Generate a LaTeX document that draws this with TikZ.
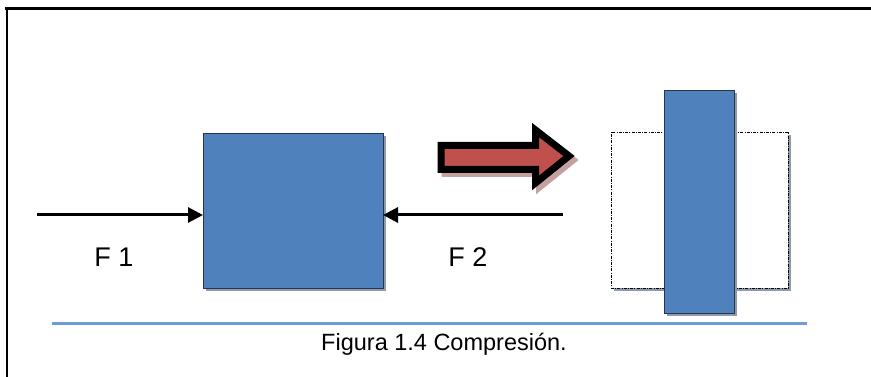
\documentclass[tikz,border=0pt]{standalone}
\usepackage{fontspec}
\setmainfont{Liberation Sans}
\usetikzlibrary{arrows.meta,shadows}

\definecolor{boxblue}{HTML}{4F81BD}
\definecolor{boxedge}{HTML}{24374F}
\definecolor{boxshade}{HTML}{8F9BAA}
\definecolor{pushred}{HTML}{C0504D}
\definecolor{pushshade}{HTML}{C4A0A0}
\definecolor{baseblue}{HTML}{6F9BD8}

\tikzset{
  blockbox/.style={draw=boxedge, line width=0.9pt, fill=boxblue, outer sep=0pt,
    general shadow={fill=boxshade, shadow xshift=3pt, shadow yshift=-3pt}},
  ghostbox/.style={draw=black, line width=0.9pt, fill=white, outer sep=0pt,
    dash pattern=on 3pt off 1.2pt on 1pt off 1.2pt,
    general shadow={fill=boxshade, shadow xshift=3pt, shadow yshift=-3pt}},
  force/.style={line width=3pt, -{Triangle[length=15pt,width=15pt]}},
  flabel/.style={font=\fontsize{27}{30}\selectfont},
}

\begin{document}
\begin{tikzpicture}[x=1pt,y=-1pt]
\useasboundingbox (0,0) rectangle (871,377);

% frame edges
\draw[line width=3pt] (5,9) -- (871,9);
\draw[line width=2.2pt] (7,9) -- (7,377);

% block before compression
\node[blockbox, minimum width=180pt, minimum height=155pt] (sq) at (293,210.5) {};

% forces
\coordinate (f1start) at (37,215);
\coordinate (f2start) at (563,215);
\draw[force] (f1start) -- (f1start -| sq.west);
\draw[force] (f2start) -- (f2start -| sq.east);
\node[flabel] (f1) at (114,257) {F 1};
\node[flabel] (f2) at (468,257) {F 2};

% transition arrow with its shadow
\draw[pushshade, fill=pushshade, line width=7pt, miter limit=10]
  (445,149.5) -- (539.5,149.5) -- (539.5,134) -- (573,160)
  -- (539.5,187) -- (539.5,173.5) -- (445,173.5) -- cycle;
\draw[black, fill=pushred, line width=7pt, miter limit=10]
  (441,145.5) -- (535.5,145.5) -- (535.5,130) -- (569,156)
  -- (535.5,183) -- (535.5,169.5) -- (441,169.5) -- cycle;

% block after compression
\node[ghostbox, minimum width=177pt, minimum height=156pt] (ghost) at (699.5,210) {};
\node[blockbox, minimum width=70pt, minimum height=223pt] (tall) at (699,201.5) {};

% base line and caption
\draw[baseblue, line width=3pt] (52,323) -- (807,323);
\node[font=\fontsize{23.5}{26}\selectfont] (cap) at (444,344) {Figura 1.4 Compresión.};
\end{tikzpicture}
\end{document}
